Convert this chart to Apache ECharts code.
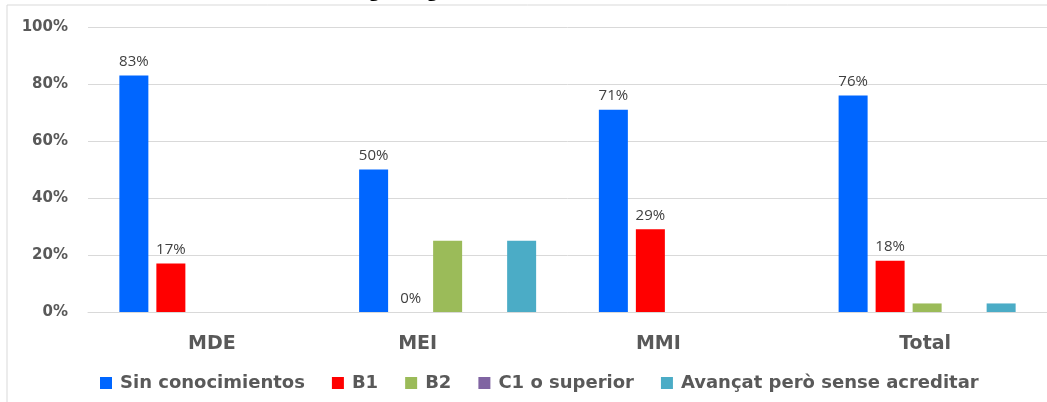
<!DOCTYPE html>
<html>
<head>
<meta charset="utf-8">
<style>
  html, body { margin: 0; padding: 0; background: #fff; }
  #chart { width: 1047px; height: 402px; }
</style>
<script src="https://cdn.jsdelivr.net/npm/echarts@6/dist/echarts.min.js"></script>
</head>
<body>
<div id="chart"></div>
<script>
const titleText = "Gráfico 4. Nivel de conocimiento de lengua inglesa (alumnos)";
const categories = ["MDE", "MEI", "MMI", "Total"];
const seriesNames = ["Sin conocimientos", "B1", "B2", "C1 o superior", "Avançat però sense acreditar"];
const sinConocimientos = [83, 50, 71, 76];
const b1 = [17, 0, 29, 18];
const b2 = [null, 25, null, 3];
const c1 = [null, 0, null, 0];
const avancat = [null, 25, null, 3];
const yTicks = [0, 20, 40, 60, 80, 100];

const colors = ["#0066ff", "#ff0000", "#9bbb59", "#8064a2", "#4bacc6"];
const values = [sinConocimientos, b1, b2, c1, avancat];
const showLabel = [true, true, false, false, false];

// category labels in the source sit a bit off their bar groups
const labelShift = { MDE: 4, MEI: -30, MMI: -29, Total: -2 };
const boldFont = "DejaVu Sans";

const chart = echarts.init(document.getElementById("chart"));

const option = {
  animation: false,
  color: colors,
  graphic: [
    {
      type: "rect",
      shape: { x: 7, y: 5, width: 1100, height: 500 },
      style: { fill: "none", stroke: "#d9d9d9", lineWidth: 1 },
      z: -1,
    },
    {
      type: "text",
      left: 0,
      top: -19,
      style: {
        text: titleText,
        font: "bold 19px 'Open Sans', sans-serif",
        fill: "#000",
      },
    },
  ],
  grid: { left: 88, top: 27, width: 960, height: 285 },
  legend: {
    data: seriesNames,
    left: 95,
    top: 369,
    itemWidth: 12,
    itemHeight: 12,
    itemGap: 27,
    icon: "rect",
    textStyle: {
      fontFamily: boldFont,
      fontWeight: "bold",
      fontSize: 18,
      color: "#595959",
      padding: [0, 0, 0, 3],
    },
  },
  xAxis: {
    type: "category",
    data: categories,
    axisLine: { show: true, lineStyle: { color: "#d9d9d9" } },
    axisTick: { show: false },
    axisLabel: {
      margin: 23,
      fontFamily: boldFont,
      fontWeight: "bold",
      fontSize: 19,
      color: "#595959",
      formatter: function (v) {
        const s = labelShift[v] || 0;
        return s < 0 ? "{l|" + v + "}" + "{p" + (-s) + "|}" : "{p" + s + "|}{l|" + v + "}";
      },
      rich: (function () {
        const r = { l: { fontFamily: boldFont, fontWeight: "bold", fontSize: 19, color: "#595959" } };
        Object.values(labelShift).forEach(function (s) {
          r["p" + Math.abs(s)] = { width: Math.abs(s) * 2 };
        });
        return r;
      })(),
    },
  },
  yAxis: {
    type: "value",
    min: 0,
    max: 100,
    interval: 20,
    axisLine: { show: false },
    axisTick: { show: false },
    splitLine: { lineStyle: { color: "#d9d9d9" } },
    axisLabel: {
      margin: 20,
      fontFamily: boldFont,
      fontWeight: "bold",
      fontSize: 15,
      color: "#595959",
      formatter: function (v) {
        return yTicks.indexOf(v) >= 0 ? v + "%" : "";
      },
    },
  },
  series: seriesNames.map(function (name, i) {
    return {
      name: name,
      type: "bar",
      data: values[i],
      barWidth: 29,
      barGap: "27.6%",
      itemStyle: { color: colors[i] },
      label: {
        show: showLabel[i],
        position: "top",
        distance: 6,
        fontFamily: "Open Sans",
        fontSize: 15,
        color: "#404040",
        formatter: "{c}%",
      },
    };
  }),
};

chart.setOption(option);
</script>
</body>
</html>
